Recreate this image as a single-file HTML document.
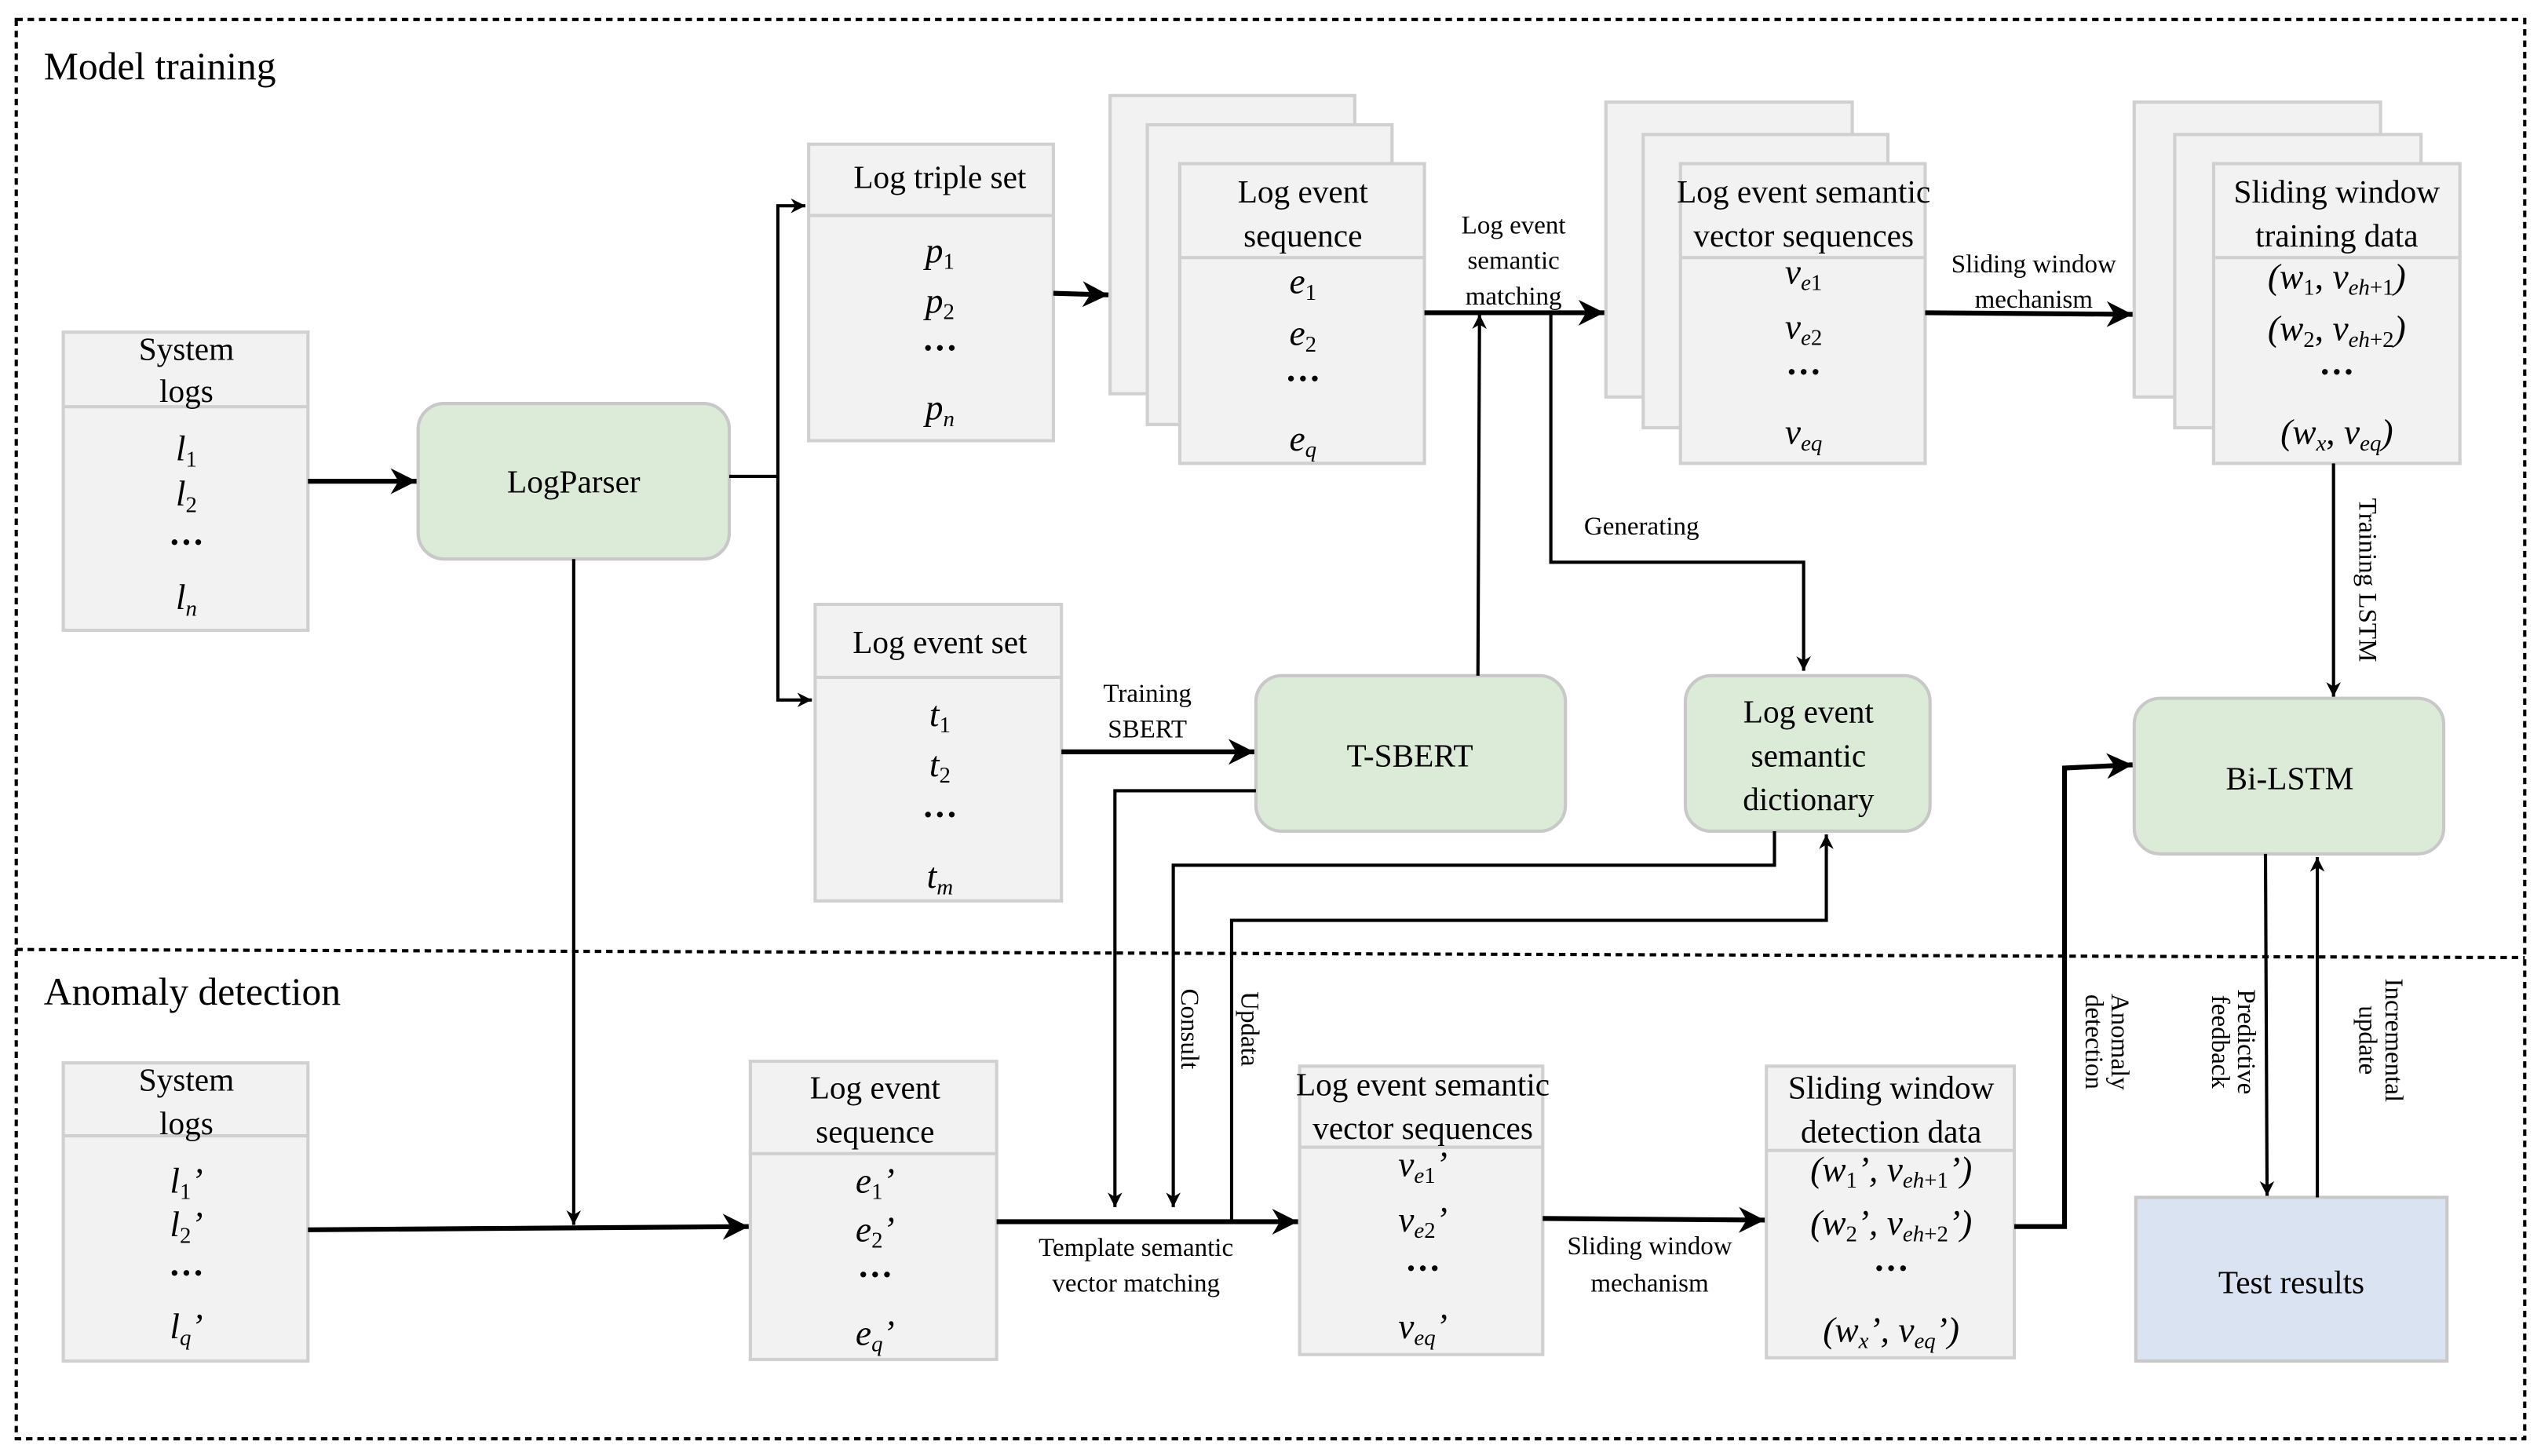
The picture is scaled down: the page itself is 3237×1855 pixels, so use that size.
<!DOCTYPE html>
<html><head><meta charset="utf-8"><style>
html,body{margin:0;padding:0;background:#fff}
svg{display:block}
text{font-family:"Liberation Serif",serif;fill:#000}
.b{fill:#f2f2f2;stroke:#d0d0d0;stroke-width:2}
.g{fill:#dcebd7;stroke:#c8c8c8;stroke-width:2}
.l{fill:none;stroke:#000;stroke-width:2}
.lt{fill:none;stroke:#000;stroke-width:3}
.h{font-size:20px;text-anchor:middle}
.s{font-size:16px;text-anchor:middle}
.m{font-size:22px;text-anchor:middle;font-style:italic}
.d{font-size:22px;text-anchor:middle;font-weight:bold}
</style></head><body>
<svg width="3237" height="1855" viewBox="0 0 1568 898.6" xmlns="http://www.w3.org/2000/svg">
<defs>
<marker id="a" viewBox="0 0 10 10" refX="10" refY="5" markerWidth="9" markerHeight="9" markerUnits="userSpaceOnUse" orient="auto"><path d="M0,0 L10,5 L0,10 L3,5 z" fill="#000"/></marker>
<marker id="A" viewBox="0 0 10 10" refX="10" refY="5" markerWidth="16" markerHeight="16" markerUnits="userSpaceOnUse" orient="auto"><path d="M0,0 L10,5 L0,10 L3,5 z" fill="#000"/></marker>
</defs>
<rect x="10" y="12" width="1548" height="876" fill="none" stroke="#000" stroke-width="2" stroke-dasharray="4,3"/>
<line x1="10" y1="586" x2="1558" y2="591" stroke="#000" stroke-width="2" stroke-dasharray="4,3"/>
<text x="27" y="49" style="font-size:24px">Model training</text>
<text x="27" y="620" style="font-size:24px">Anomaly detection</text>

<rect class="b" x="39" y="205" width="151" height="184"/><line x1="39" y1="251" x2="190" y2="251" stroke="#d0d0d0" stroke-width="2"/>
<text class="h" x="115" y="222">System</text><text class="h" x="115" y="248">logs</text>
<text class="m" x="115" y="284">l<tspan font-size="14" dy="4" font-style="normal">1</tspan></text>
<text class="m" x="115" y="312">l<tspan font-size="14" dy="4" font-style="normal">2</tspan></text>
<text class="d" x="115" y="342">···</text>
<text class="m" x="115" y="376">l<tspan font-size="14" dy="4">n</tspan></text>

<rect class="g" x="258" y="249" width="192" height="96" rx="16"/>
<text class="h" x="354" y="304">LogParser</text>

<rect class="b" x="499" y="89" width="151" height="183"/><line x1="499" y1="133" x2="650" y2="133" stroke="#d0d0d0" stroke-width="2"/>
<text class="h" x="580" y="116">Log triple set</text>
<text class="m" x="580" y="162">p<tspan font-size="14" dy="4" font-style="normal">1</tspan></text>
<text class="m" x="580" y="193">p<tspan font-size="14" dy="4" font-style="normal">2</tspan></text>
<text class="d" x="580" y="222">···</text>
<text class="m" x="580" y="259">p<tspan font-size="14" dy="4">n</tspan></text>

<rect class="b" x="503" y="373" width="152" height="183"/><line x1="503" y1="418" x2="655" y2="418" stroke="#d0d0d0" stroke-width="2"/>
<text class="h" x="580" y="403">Log event set</text>
<text class="m" x="580" y="448">t<tspan font-size="14" dy="4" font-style="normal">1</tspan></text>
<text class="m" x="580" y="479">t<tspan font-size="14" dy="4" font-style="normal">2</tspan></text>
<text class="d" x="580" y="510">···</text>
<text class="m" x="580" y="548">t<tspan font-size="14" dy="4">m</tspan></text>

<rect class="b" x="685" y="59" width="151" height="184"/>
<rect class="b" x="708" y="77" width="151" height="185"/>
<rect class="b" x="728" y="101" width="151" height="185"/><line x1="728" y1="159" x2="879" y2="159" stroke="#d0d0d0" stroke-width="2"/>
<text class="h" x="804" y="125">Log event</text><text class="h" x="804" y="152">sequence</text>
<text class="m" x="804" y="181">e<tspan font-size="14" dy="4" font-style="normal">1</tspan></text>
<text class="m" x="804" y="213">e<tspan font-size="14" dy="4" font-style="normal">2</tspan></text>
<text class="d" x="804" y="241">···</text>
<text class="m" x="804" y="278">e<tspan font-size="14" dy="4">q</tspan></text>

<rect class="b" x="991" y="63" width="152" height="182"/>
<rect class="b" x="1014" y="83" width="151" height="181"/>
<rect class="b" x="1037" y="101" width="151" height="185"/><line x1="1037" y1="159" x2="1188" y2="159" stroke="#d0d0d0" stroke-width="2"/>
<text class="h" x="1113" y="125">Log event semantic</text><text class="h" x="1113" y="152">vector sequences</text>
<text class="m" x="1113" y="175">v<tspan font-size="14" dy="4">e</tspan><tspan font-style="normal" font-size="14">1</tspan></text>
<text class="m" x="1113" y="209">v<tspan font-size="14" dy="4">e</tspan><tspan font-style="normal" font-size="14">2</tspan></text>
<text class="d" x="1113" y="237">···</text>
<text class="m" x="1113" y="274">v<tspan font-size="14" dy="4">eq</tspan></text>

<rect class="b" x="1317" y="63" width="152" height="182"/>
<rect class="b" x="1342" y="83" width="152" height="181"/>
<rect class="b" x="1366" y="101" width="152" height="185"/><line x1="1366" y1="159" x2="1518" y2="159" stroke="#d0d0d0" stroke-width="2"/>
<text class="h" x="1442" y="125">Sliding window</text><text class="h" x="1442" y="152">training data</text>
<text class="m" x="1442" y="178">(w<tspan font-size="14" dy="4" font-style="normal">1</tspan><tspan dy="-4" font-style="normal">, </tspan>v<tspan font-size="14" dy="4">eh</tspan><tspan font-size="14" font-style="normal">+1</tspan><tspan dy="-4">)</tspan></text>
<text class="m" x="1442" y="210">(w<tspan font-size="14" dy="4" font-style="normal">2</tspan><tspan dy="-4" font-style="normal">, </tspan>v<tspan font-size="14" dy="4">eh</tspan><tspan font-size="14" font-style="normal">+2</tspan><tspan dy="-4">)</tspan></text>
<text class="d" x="1442" y="237">···</text>
<text class="m" x="1442" y="274">(w<tspan font-size="14" dy="4">x</tspan><tspan dy="-4" font-style="normal">, </tspan>v<tspan font-size="14" dy="4">eq</tspan><tspan dy="-4">)</tspan></text>

<rect class="g" x="775" y="417" width="191" height="96" rx="16"/>
<text class="h" x="870" y="473">T-SBERT</text>
<rect class="g" x="1040" y="417" width="151" height="96" rx="16"/>
<text class="h" x="1116" y="446">Log event</text><text class="h" x="1116" y="473">semantic</text><text class="h" x="1116" y="500">dictionary</text>
<rect class="g" x="1317" y="431" width="191" height="96" rx="16"/>
<text class="h" x="1413" y="487">Bi-LSTM</text>
<rect x="1318" y="739" width="192" height="101" fill="#dae3f2" stroke="#c8c8c8" stroke-width="2"/>
<text class="h" x="1414" y="798">Test results</text>

<rect class="b" x="39" y="656" width="151" height="184"/><line x1="39" y1="701" x2="190" y2="701" stroke="#d0d0d0" stroke-width="2"/>
<text class="h" x="115" y="673">System</text><text class="h" x="115" y="700">logs</text>
<text class="m" x="115" y="736">l<tspan font-size="14" dy="4" font-style="normal">1</tspan><tspan dy="-4">’</tspan></text>
<text class="m" x="115" y="763">l<tspan font-size="14" dy="4" font-style="normal">2</tspan><tspan dy="-4">’</tspan></text>
<text class="d" x="115" y="793">···</text>
<text class="m" x="115" y="826">l<tspan font-size="14" dy="4">q</tspan><tspan dy="-4">’</tspan></text>

<rect class="b" x="463" y="655" width="152" height="184"/><line x1="463" y1="712" x2="615" y2="712" stroke="#d0d0d0" stroke-width="2"/>
<text class="h" x="540" y="678">Log event</text><text class="h" x="540" y="705">sequence</text>
<text class="m" x="540" y="736">e<tspan font-size="14" dy="4" font-style="normal">1</tspan><tspan dy="-4">’</tspan></text>
<text class="m" x="540" y="766">e<tspan font-size="14" dy="4" font-style="normal">2</tspan><tspan dy="-4">’</tspan></text>
<text class="d" x="540" y="794">···</text>
<text class="m" x="540" y="830">e<tspan font-size="14" dy="4">q</tspan><tspan dy="-4">’</tspan></text>

<rect class="b" x="802" y="658" width="150" height="178"/><line x1="802" y1="708" x2="952" y2="708" stroke="#d0d0d0" stroke-width="2"/>
<text class="h" x="878" y="676">Log event semantic</text><text class="h" x="878" y="703">vector sequences</text>
<text class="m" x="878" y="726">v<tspan font-size="14" dy="4">e</tspan><tspan font-style="normal" font-size="14">1</tspan><tspan dy="-4">’</tspan></text>
<text class="m" x="878" y="760">v<tspan font-size="14" dy="4">e</tspan><tspan font-style="normal" font-size="14">2</tspan><tspan dy="-4">’</tspan></text>
<text class="d" x="878" y="790">···</text>
<text class="m" x="878" y="826">v<tspan font-size="14" dy="4">eq</tspan><tspan dy="-4">’</tspan></text>

<rect class="b" x="1090" y="658" width="153" height="180"/><line x1="1090" y1="710" x2="1243" y2="710" stroke="#d0d0d0" stroke-width="2"/>
<text class="h" x="1167" y="678">Sliding window</text><text class="h" x="1167" y="705">detection data</text>
<text class="m" x="1167" y="729">(w<tspan font-size="14" dy="4" font-style="normal">1</tspan><tspan dy="-4">’, </tspan>v<tspan font-size="14" dy="4">eh</tspan><tspan font-size="14" font-style="normal">+1</tspan><tspan dy="-4">’)</tspan></text>
<text class="m" x="1167" y="762">(w<tspan font-size="14" dy="4" font-style="normal">2</tspan><tspan dy="-4">’, </tspan>v<tspan font-size="14" dy="4">eh</tspan><tspan font-size="14" font-style="normal">+2</tspan><tspan dy="-4">’)</tspan></text>
<text class="d" x="1167" y="790">···</text>
<text class="m" x="1167" y="828">(w<tspan font-size="14" dy="4">x</tspan><tspan dy="-4">’, </tspan>v<tspan font-size="14" dy="4">eq</tspan><tspan dy="-4">’)</tspan></text>

<line class="lt" x1="190" y1="297" x2="257" y2="297" marker-end="url(#A)"/>
<polyline class="l" points="450,294 480,294 480,127 497,127" marker-end="url(#a)"/>
<polyline class="l" points="480,294 480,432 501,432" marker-end="url(#a)"/>
<line class="l" x1="354" y1="345" x2="354" y2="756" marker-end="url(#a)"/>
<line class="lt" x1="190" y1="759" x2="462" y2="757" marker-end="url(#A)"/>
<line class="lt" x1="650" y1="181" x2="684" y2="182" marker-end="url(#A)"/>
<line class="lt" x1="879" y1="193" x2="990" y2="193" marker-end="url(#A)"/>
<text class="s" x="934" y="144">Log event</text><text class="s" x="934" y="166">semantic</text><text class="s" x="934" y="188">matching</text>
<line class="l" x1="912" y1="417" x2="913" y2="194" marker-end="url(#a)"/>
<polyline class="l" points="957,193 957,347 1113,347 1113,414" marker-end="url(#a)"/>
<text class="s" x="1013" y="330">Generating</text>
<line class="lt" x1="1188" y1="193" x2="1316" y2="194" marker-end="url(#A)"/>
<text class="s" x="1255" y="168">Sliding window</text><text class="s" x="1255" y="190">mechanism</text>
<line class="l" x1="1440" y1="286" x2="1440" y2="430" marker-end="url(#a)"/>
<text class="s" transform="translate(1456,358) rotate(90)">Training LSTM</text>
<line class="lt" x1="655" y1="464" x2="774" y2="464" marker-end="url(#A)"/>
<text class="s" x="708" y="433">Training</text><text class="s" x="708" y="455">SBERT</text>
<polyline class="l" points="775,488 688,488 688,745" marker-end="url(#a)"/>
<polyline class="l" points="1095,513 1095,534 724,534 724,745" marker-end="url(#a)"/>
<polyline class="l" points="760,754 760,568 1127,568 1127,515" marker-end="url(#a)"/>
<text class="s" transform="translate(729,635) rotate(90)">Consult</text>
<text class="s" transform="translate(766,635) rotate(90)">Updata</text>
<line class="lt" x1="615" y1="754" x2="801" y2="754" marker-end="url(#A)"/>
<text class="s" x="701" y="775">Template semantic</text><text class="s" x="701" y="797">vector matching</text>
<line class="lt" x1="952" y1="752" x2="1089" y2="753" marker-end="url(#A)"/>
<text class="s" x="1018" y="774">Sliding window</text><text class="s" x="1018" y="797">mechanism</text>
<polyline class="lt" points="1243,757 1274,757 1274,474 1316,472" marker-end="url(#A)"/>
<text class="s" transform="translate(1303,643) rotate(90)">Anomaly</text>
<text class="s" transform="translate(1287,643) rotate(90)">detection</text>
<line class="l" x1="1398" y1="527" x2="1399" y2="738" marker-end="url(#a)"/>
<line class="l" x1="1430" y1="739" x2="1430" y2="529" marker-end="url(#a)"/>
<text class="s" transform="translate(1381,643) rotate(90)">Predictive</text>
<text class="s" transform="translate(1365,643) rotate(90)">feedback</text>
<text class="s" transform="translate(1472,642) rotate(90)">Incremental</text>
<text class="s" transform="translate(1456,642) rotate(90)">update</text>
</svg>
</body></html>
